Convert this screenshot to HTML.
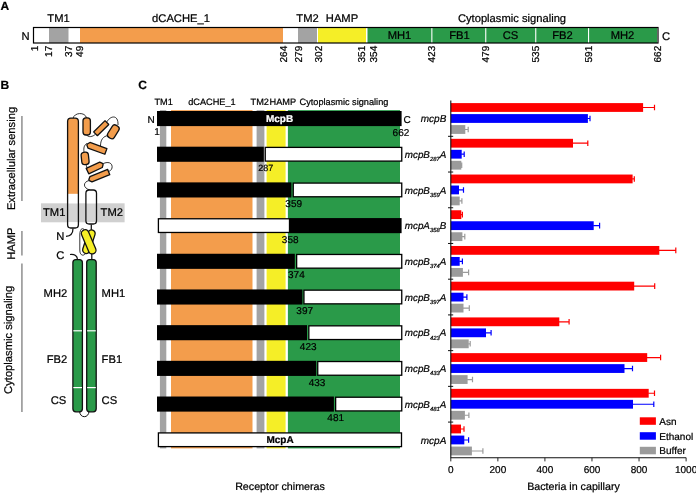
<!DOCTYPE html><html><head><meta charset="utf-8"><title>Figure</title>
<style>html,body{margin:0;padding:0;background:#fff}svg{display:block}text{font-family:"Liberation Sans",sans-serif;fill:#000;stroke:#000;stroke-width:0.22px;text-rendering:geometricPrecision}</style></head><body>
<svg width="696" height="493" viewBox="0 0 696 493">
<rect width="696" height="493" fill="#fff"/>
<g id="panelA">
<text x="0.6" y="9.7" font-size="12" font-weight="bold">A</text>
<rect x="33.5" y="27.5" width="624.5" height="15.5" fill="#fff"/>
<rect x="49" y="27.5" width="19.5" height="15.5" fill="#A3A3A3"/>
<rect x="80" y="27.5" width="203" height="15.5" fill="#F39D4C"/>
<rect x="298" y="27.5" width="19" height="15.5" fill="#A3A3A3"/>
<rect x="318" y="27.5" width="48" height="15.5" fill="#F5EE27"/>
<rect x="367.5" y="27.5" width="289.5" height="15.5" fill="#2A9A49"/>
<rect x="431.3" y="27.5" width="1.1" height="15.5" fill="#fff"/>
<rect x="485.2" y="27.5" width="1.1" height="15.5" fill="#fff"/>
<rect x="535.2" y="27.5" width="1.1" height="15.5" fill="#fff"/>
<rect x="588.0" y="27.5" width="1.1" height="15.5" fill="#fff"/>
<rect x="33.5" y="27.5" width="624.5" height="15.5" fill="none" stroke="#000" stroke-width="1.2"/>
<text x="21.5" y="39.6" font-size="11.2">N</text>
<text x="662" y="39.8" font-size="11.2">C</text>
<text x="58.5" y="21.9" font-size="11.2" text-anchor="middle">TM1</text>
<text x="181" y="21.9" font-size="11.2" text-anchor="middle">dCACHE_1</text>
<text x="307.5" y="21.9" font-size="11.2" text-anchor="middle">TM2</text>
<text x="342" y="21.9" font-size="11.2" text-anchor="middle">HAMP</text>
<text x="512" y="21.9" font-size="11.2" text-anchor="middle">Cytoplasmic signaling</text>
<text x="399.5" y="39.2" font-size="11.2" text-anchor="middle">MH1</text>
<text x="459.5" y="39.2" font-size="11.2" text-anchor="middle">FB1</text>
<text x="510.5" y="39.2" font-size="11.2" text-anchor="middle">CS</text>
<text x="562.5" y="39.2" font-size="11.2" text-anchor="middle">FB2</text>
<text x="622.5" y="39.2" font-size="11.2" text-anchor="middle">MH2</text>
<text transform="translate(37.8,45.8) rotate(-90)" font-size="10" text-anchor="end">1</text>
<text transform="translate(52,45.8) rotate(-90)" font-size="10" text-anchor="end">17</text>
<text transform="translate(72.2,45.8) rotate(-90)" font-size="10" text-anchor="end">37</text>
<text transform="translate(83.3,45.8) rotate(-90)" font-size="10" text-anchor="end">49</text>
<text transform="translate(286.5,45.8) rotate(-90)" font-size="10" text-anchor="end">264</text>
<text transform="translate(301.5,45.8) rotate(-90)" font-size="10" text-anchor="end">279</text>
<text transform="translate(322,45.8) rotate(-90)" font-size="10" text-anchor="end">302</text>
<text transform="translate(365,45.8) rotate(-90)" font-size="10" text-anchor="end">351</text>
<text transform="translate(377,45.8) rotate(-90)" font-size="10" text-anchor="end">354</text>
<text transform="translate(435.2,45.8) rotate(-90)" font-size="10" text-anchor="end">423</text>
<text transform="translate(488.5,45.8) rotate(-90)" font-size="10" text-anchor="end">479</text>
<text transform="translate(538.5,45.8) rotate(-90)" font-size="10" text-anchor="end">535</text>
<text transform="translate(591.5,45.8) rotate(-90)" font-size="10" text-anchor="end">591</text>
<text transform="translate(661.2,45.8) rotate(-90)" font-size="10" text-anchor="end">662</text>
</g>
<g id="panelB">
<text x="0.6" y="89" font-size="12" font-weight="bold">B</text>
<text transform="translate(14.6,158.5) rotate(-90)" font-size="11.2" text-anchor="middle">Extracellular sensing</text>
<text transform="translate(14.6,243.7) rotate(-90)" font-size="11.2" text-anchor="middle">HAMP</text>
<text transform="translate(12.3,339.8) rotate(-90)" font-size="11.2" text-anchor="middle">Cytoplasmic signaling</text>
<rect x="21.5" y="116" width="0.9" height="85" fill="#444"/>
<rect x="21.5" y="231" width="0.9" height="24.5" fill="#444"/>
<rect x="21.5" y="263.5" width="0.9" height="148.5" fill="#444"/>
<rect x="41" y="203.3" width="83.6" height="19" fill="#D0D0D0"/>
<text x="43" y="216.2" font-size="11.2">TM1</text>
<text x="100.6" y="216.2" font-size="11.2">TM2</text>
<path d="M73,118.5 C74,112.5 85,111.5 86.6,118" fill="none" stroke="#111" stroke-width="0.85"/>
<path d="M86.7,135 C88,137.5 93,137 95.5,134" fill="none" stroke="#111" stroke-width="0.85"/>
<path d="M106.5,122.5 C110,115.5 118.5,114 118,125" fill="none" stroke="#111" stroke-width="0.85"/>
<path d="M108.5,135.5 C103,136 100.5,140 100.5,146" fill="none" stroke="#111" stroke-width="0.85"/>
<path d="M87,143.5 C84,145 83.5,148 84,152" fill="none" stroke="#111" stroke-width="0.85"/>
<path d="M86,164 C86.5,166.5 87,167.5 88,170" fill="none" stroke="#111" stroke-width="0.85"/>
<path d="M101.5,164.5 C108,160.5 113,163 112,168 C111.5,170 110,171 108.5,171.5" fill="none" stroke="#111" stroke-width="0.85"/>
<path d="M89,180.5 C83,182 82.5,188 90,190" fill="none" stroke="#111" stroke-width="0.85"/>
<clipPath id="tc"><rect x="67.6" y="118.2" width="10.8" height="109.8" rx="3.2"/></clipPath>
<g clip-path="url(#tc)"><rect x="67" y="117" width="12" height="76.9" fill="#F39D4C"/><rect x="67" y="193.9" width="12" height="9.4" fill="#fff"/><rect x="67" y="203.3" width="12" height="19" fill="#fff" fill-opacity="0.1"/><rect x="67" y="222.3" width="12" height="8" fill="#fff"/></g>
<rect x="67.6" y="118.2" width="10.8" height="109.8" rx="3.2" fill="none" stroke="#111" stroke-width="1.3"/>
<rect x="-8.6" y="-3.7" width="17.2" height="7.4" rx="3" transform="translate(86.7,126.4) rotate(90)" fill="#F39D4C" stroke="#111" stroke-width="1.3"/>
<rect x="-8.0" y="-2.7" width="16" height="5.4" rx="0.3" transform="translate(101.2,128.2) rotate(-44.5)" fill="#F39D4C" stroke="#111" stroke-width="1.3"/>
<rect x="-7.1" y="-3.8" width="14.2" height="7.6" rx="3" transform="translate(113.3,131.8) rotate(-58)" fill="#F39D4C" stroke="#111" stroke-width="1.3"/>
<path d="M-10,-0.6 L-8,-3 L10,-3 L10,3 L-8,3 L-10,0.6 Z" transform="translate(96.5,148) rotate(20)" fill="#F39D4C" stroke="#111" stroke-width="1.3" stroke-linejoin="round"/>
<rect x="-6.2" y="-3.65" width="12.4" height="7.3" rx="3" transform="translate(85.1,158.4) rotate(84)" fill="#F39D4C" stroke="#111" stroke-width="1.3"/>
<path d="M-8.3,-3 L6.6,-3 L8.6,-0.7 L8.6,0.7 L6.6,3 L-8.3,3 Z" transform="translate(95,167.6) rotate(-25)" fill="#F39D4C" stroke="#111" stroke-width="1.3" stroke-linejoin="round"/>
<path d="M-10.7,-0.6 L-8.7,-2.8 L10.5,-2.8 L10.5,2.8 L-8.7,2.8 L-10.7,0.6 Z" transform="translate(99,176) rotate(-22)" fill="#F39D4C" stroke="#111" stroke-width="1.3" stroke-linejoin="round"/>
<clipPath id="t2"><rect x="85.9" y="190" width="10.6" height="34" rx="3.2"/></clipPath>
<g clip-path="url(#t2)"><rect x="85" y="189" width="13" height="14.3" fill="#fff"/><rect x="85" y="203.3" width="13" height="19" fill="#fff" fill-opacity="0.1"/><rect x="85" y="222.3" width="13" height="4" fill="#fff"/></g>
<rect x="85.9" y="190" width="10.6" height="34" rx="3.2" fill="none" stroke="#111" stroke-width="1.3"/>
<text x="56.3" y="240" font-size="11.2">N</text>
<text x="56.3" y="259.2" font-size="11.2">C</text>
<path d="M73,228.4 C73,234 70,236 66,236.3" fill="none" stroke="#111" stroke-width="1.25"/>
<path d="M70,254.5 C75,254 77.3,256 77.5,259.5" fill="none" stroke="#111" stroke-width="1.25"/>
<path d="M91.3,224.5 L91.3,230.5" fill="none" stroke="#111" stroke-width="1.25"/>
<path d="M91.8,252.5 L91.8,259.5" fill="none" stroke="#111" stroke-width="1.25"/>
<path d="M85,230.5 C82,226.5 79.8,229.5 79.8,235 L79.8,250 C79.8,256.5 84.5,256.3 86,252.5" fill="none" stroke="#111" stroke-width="0.85"/>
<rect x="-12.2" y="-3.6" width="24.4" height="7.2" rx="3.6" transform="translate(88.9,241.7) rotate(-72)" fill="#F5EE27" stroke="#111" stroke-width="1.3"/>
<rect x="-12.8" y="-3.75" width="25.6" height="7.5" rx="3.7" transform="translate(88.7,241.8) rotate(67)" fill="#F5EE27" stroke="#111" stroke-width="1.3"/>
<path d="M79.6,411 C79.6,418.6 89,418.6 89,411" fill="none" stroke="#111" stroke-width="1"/>
<rect x="72.9" y="259.6" width="9.5" height="152.2" rx="3" fill="#2A9A49" stroke="#111" stroke-width="1.3"/>
<rect x="86.7" y="259.6" width="9.5" height="152.2" rx="3" fill="#2A9A49" stroke="#111" stroke-width="1.3"/>
<rect x="73.3" y="330.2" width="8.7" height="1.2" fill="#fff"/><rect x="87.1" y="330.2" width="8.7" height="1.2" fill="#fff"/>
<rect x="73.3" y="387.0" width="8.7" height="1.2" fill="#fff"/><rect x="87.1" y="387.0" width="8.7" height="1.2" fill="#fff"/>
<text x="67.2" y="296.7" font-size="11.2" text-anchor="end">MH2</text>
<text x="101.6" y="296.7" font-size="11.2">MH1</text>
<text x="67.2" y="363" font-size="11.2" text-anchor="end">FB2</text>
<text x="101.6" y="363" font-size="11.2">FB1</text>
<text x="66.2" y="403.5" font-size="11.2" text-anchor="end">CS</text>
<text x="101.6" y="403.5" font-size="11.2">CS</text>
</g>
<g id="panelC">
<text x="138.2" y="89" font-size="12" font-weight="bold">C</text>
<text x="154.5" y="104.6" font-size="9.2" text-anchor="start">TM1</text>
<text x="188.2" y="104.6" font-size="9.2" text-anchor="start">dCACHE_1</text>
<text x="250.6" y="104.6" font-size="9.2" text-anchor="start">TM2</text>
<text x="269.5" y="104.6" font-size="9.2" text-anchor="start">HAMP</text>
<text x="299.5" y="104.6" font-size="9.2" text-anchor="start">Cytoplasmic signaling</text>
<rect x="159.9" y="110.1" width="6.400000000000006" height="338.29999999999995" fill="#A3A3A3"/>
<rect x="171" y="110.1" width="81.5" height="338.29999999999995" fill="#F39D4C"/>
<rect x="256.6" y="110.1" width="7.7999999999999545" height="338.29999999999995" fill="#A3A3A3"/>
<rect x="266.6" y="110.1" width="19.0" height="338.29999999999995" fill="#F5EE27"/>
<rect x="287.9" y="110.1" width="112.10000000000002" height="338.29999999999995" fill="#2A9A49"/>
<rect x="157" y="111.0" width="244.60000000000002" height="15.1" fill="#000"/>
<text x="279.5" y="122.3" font-size="10" font-weight="bold" text-anchor="middle" style="fill:#fff;stroke:#fff">McpB</text>
<text x="147.6" y="122.6" font-size="10">N</text>
<text x="403.4" y="122.7" font-size="10">C</text>
<text x="154.2" y="134.8" font-size="10">1</text>
<text x="392.6" y="135.6" font-size="10">662</text>
<rect x="157" y="146.69" width="106.80000000000001" height="15.1" fill="#000"/>
<rect x="265.25" y="147.39" width="136.5" height="13.7" fill="#fff" stroke="#000" stroke-width="1.3"/>
<text x="265.8" y="171.39" font-size="9" text-anchor="middle">287</text>
<rect x="157" y="182.38" width="134.39999999999998" height="15.1" fill="#000"/>
<rect x="293.25" y="183.07999999999998" width="108.5" height="13.7" fill="#fff" stroke="#000" stroke-width="1.3"/>
<text x="293.7" y="207.07999999999998" font-size="10" text-anchor="middle">359</text>
<rect x="289.5" y="218.07" width="112.10000000000002" height="15.1" fill="#000"/>
<rect x="158.4" y="218.76999999999998" width="131.1" height="13.7" fill="#fff" stroke="#000" stroke-width="1.3"/>
<text x="290.2" y="242.76999999999998" font-size="10" text-anchor="middle">358</text>
<rect x="157" y="253.76" width="137.8" height="15.1" fill="#000"/>
<rect x="296.65" y="254.45999999999998" width="105.10000000000002" height="13.7" fill="#fff" stroke="#000" stroke-width="1.3"/>
<text x="296.4" y="278.46" font-size="10" text-anchor="middle">374</text>
<rect x="157" y="289.45" width="145.39999999999998" height="15.1" fill="#000"/>
<rect x="303.95" y="290.15" width="97.80000000000001" height="13.7" fill="#fff" stroke="#000" stroke-width="1.3"/>
<text x="304.7" y="314.15" font-size="10" text-anchor="middle">397</text>
<rect x="157" y="325.14" width="150" height="15.1" fill="#000"/>
<rect x="308.84999999999997" y="325.84" width="92.90000000000003" height="13.7" fill="#fff" stroke="#000" stroke-width="1.3"/>
<text x="308.2" y="349.84" font-size="10" text-anchor="middle">423</text>
<rect x="157" y="360.83" width="159.2" height="15.1" fill="#000"/>
<rect x="317.75" y="361.53" width="84.0" height="13.7" fill="#fff" stroke="#000" stroke-width="1.3"/>
<text x="317.1" y="385.53" font-size="10" text-anchor="middle">433</text>
<rect x="157" y="396.52" width="176.89999999999998" height="15.1" fill="#000"/>
<rect x="335.65" y="397.21999999999997" width="66.10000000000002" height="13.7" fill="#fff" stroke="#000" stroke-width="1.3"/>
<text x="335.7" y="421.21999999999997" font-size="10" text-anchor="middle">481</text>
<rect x="158.4" y="432.90999999999997" width="243.10000000000002" height="13.7" fill="#fff" stroke="#000" stroke-width="1.3"/>
<text x="280" y="442.90999999999997" font-size="10" font-weight="bold" text-anchor="middle">McpA</text>
<text x="280" y="490.3" font-size="10.7" text-anchor="middle">Receptor chimeras</text>
</g>
<g id="chart">
<path d="M642.6,107.5 H655 M654.5,104.69999999999999 V110.3" stroke="#FF0000" stroke-width="1.2" fill="none"/>
<rect x="450.8" y="103.1" width="192.3" height="8.8" fill="#FF0000"/>
<path d="M587.4,118.5 H590.5 M590.0,115.69999999999999 V121.3" stroke="#0000FF" stroke-width="1.2" fill="none"/>
<rect x="450.8" y="114.1" width="137.09999999999997" height="8.8" fill="#0000FF"/>
<path d="M464.8,129.5 H468.7 M468.2,126.69999999999999 V132.29999999999998" stroke="#9B9B9B" stroke-width="1.2" fill="none"/>
<rect x="450.8" y="125.1" width="14.5" height="8.8" fill="#9B9B9B"/>
<text x="446.3" y="122.05999999999999" font-size="10" font-style="italic" text-anchor="end">mcpB</text>
<path d="M572.5,143.22 H588.3 M587.8,140.42 V146.01999999999998" stroke="#FF0000" stroke-width="1.2" fill="none"/>
<rect x="450.8" y="138.82" width="122.19999999999999" height="8.8" fill="#FF0000"/>
<path d="M461.2,154.22 H464.7 M464.2,151.42 V157.01999999999998" stroke="#0000FF" stroke-width="1.2" fill="none"/>
<rect x="450.8" y="149.82" width="10.899999999999977" height="8.8" fill="#0000FF"/>
<path d="M460.8,165.22 H462.2 M461.7,162.42 V168.01999999999998" stroke="#9B9B9B" stroke-width="1.2" fill="none"/>
<rect x="450.8" y="160.82" width="10.5" height="8.8" fill="#9B9B9B"/>
<text x="446.3" y="157.78" font-size="9.8" font-style="italic" text-anchor="end">mcpB<tspan font-size="5.9" dy="3.2">287</tspan><tspan dy="-3.2">A</tspan></text>
<path d="M632.1,178.94000000000003 H634.8 M634.3,176.14000000000001 V181.74" stroke="#FF0000" stroke-width="1.2" fill="none"/>
<rect x="450.8" y="174.54000000000002" width="181.8" height="8.8" fill="#FF0000"/>
<path d="M458.5,189.94000000000003 H464 M463.5,187.14000000000001 V192.74" stroke="#0000FF" stroke-width="1.2" fill="none"/>
<rect x="450.8" y="185.54000000000002" width="8.199999999999989" height="8.8" fill="#0000FF"/>
<path d="M459.2,200.94000000000003 H462.4 M461.9,198.14000000000001 V203.74" stroke="#9B9B9B" stroke-width="1.2" fill="none"/>
<rect x="450.8" y="196.54000000000002" width="8.899999999999977" height="8.8" fill="#9B9B9B"/>
<text x="446.3" y="193.50000000000003" font-size="9.8" font-style="italic" text-anchor="end">mcpB<tspan font-size="5.9" dy="3.2">359</tspan><tspan dy="-3.2">A</tspan></text>
<path d="M460.8,214.66000000000003 H462.9 M462.4,211.86 V217.46" stroke="#FF0000" stroke-width="1.2" fill="none"/>
<rect x="450.8" y="210.26000000000002" width="10.5" height="8.8" fill="#FF0000"/>
<path d="M593.2,225.66000000000003 H600.1 M599.6,222.86 V228.46" stroke="#0000FF" stroke-width="1.2" fill="none"/>
<rect x="450.8" y="221.26000000000002" width="142.90000000000003" height="8.8" fill="#0000FF"/>
<path d="M461.9,236.66000000000003 H465.3 M464.8,233.86 V239.46" stroke="#9B9B9B" stroke-width="1.2" fill="none"/>
<rect x="450.8" y="232.26000000000002" width="11.599999999999966" height="8.8" fill="#9B9B9B"/>
<text x="446.3" y="229.22000000000003" font-size="9.8" font-style="italic" text-anchor="end">mcpA<tspan font-size="5.9" dy="3.2">358</tspan><tspan dy="-3.2">B</tspan></text>
<path d="M658.8,250.38000000000002 H676.3 M675.8,247.58 V253.18" stroke="#FF0000" stroke-width="1.2" fill="none"/>
<rect x="450.8" y="245.98000000000002" width="208.49999999999994" height="8.8" fill="#FF0000"/>
<path d="M459.2,261.38 H462.9 M462.4,258.58000000000004 V264.18" stroke="#0000FF" stroke-width="1.2" fill="none"/>
<rect x="450.8" y="256.98" width="8.899999999999977" height="8.8" fill="#0000FF"/>
<path d="M462.4,272.38 H469.1 M468.6,269.58000000000004 V275.18" stroke="#9B9B9B" stroke-width="1.2" fill="none"/>
<rect x="450.8" y="267.98" width="12.099999999999966" height="8.8" fill="#9B9B9B"/>
<text x="446.3" y="264.94000000000005" font-size="9.8" font-style="italic" text-anchor="end">mcpB<tspan font-size="5.9" dy="3.2">374</tspan><tspan dy="-3.2">A</tspan></text>
<path d="M633.7,286.1 H655.2 M654.7,283.30000000000007 V288.90000000000003" stroke="#FF0000" stroke-width="1.2" fill="none"/>
<rect x="450.8" y="281.70000000000005" width="183.40000000000003" height="8.8" fill="#FF0000"/>
<path d="M463.0,297.1 H467.4 M466.9,294.30000000000007 V299.90000000000003" stroke="#0000FF" stroke-width="1.2" fill="none"/>
<rect x="450.8" y="292.70000000000005" width="12.699999999999989" height="8.8" fill="#0000FF"/>
<path d="M463.0,308.1 H469.8 M469.3,305.30000000000007 V310.90000000000003" stroke="#9B9B9B" stroke-width="1.2" fill="none"/>
<rect x="450.8" y="303.70000000000005" width="12.699999999999989" height="8.8" fill="#9B9B9B"/>
<text x="446.3" y="300.6600000000001" font-size="9.8" font-style="italic" text-anchor="end">mcpB<tspan font-size="5.9" dy="3.2">397</tspan><tspan dy="-3.2">A</tspan></text>
<path d="M558.8,321.82000000000005 H569.6 M569.1,319.0200000000001 V324.62000000000006" stroke="#FF0000" stroke-width="1.2" fill="none"/>
<rect x="450.8" y="317.4200000000001" width="108.49999999999994" height="8.8" fill="#FF0000"/>
<path d="M485.5,332.82000000000005 H491.6 M491.1,330.0200000000001 V335.62000000000006" stroke="#0000FF" stroke-width="1.2" fill="none"/>
<rect x="450.8" y="328.4200000000001" width="35.19999999999999" height="8.8" fill="#0000FF"/>
<path d="M468.2,343.82000000000005 H470.7 M470.2,341.0200000000001 V346.62000000000006" stroke="#9B9B9B" stroke-width="1.2" fill="none"/>
<rect x="450.8" y="339.4200000000001" width="17.899999999999977" height="8.8" fill="#9B9B9B"/>
<text x="446.3" y="336.3800000000001" font-size="9.8" font-style="italic" text-anchor="end">mcpB<tspan font-size="5.9" dy="3.2">423</tspan><tspan dy="-3.2">A</tspan></text>
<path d="M646.7,357.54 H661.1 M660.6,354.74000000000007 V360.34000000000003" stroke="#FF0000" stroke-width="1.2" fill="none"/>
<rect x="450.8" y="353.14000000000004" width="196.40000000000003" height="8.8" fill="#FF0000"/>
<path d="M624.0,368.54 H633 M632.5,365.74000000000007 V371.34000000000003" stroke="#0000FF" stroke-width="1.2" fill="none"/>
<rect x="450.8" y="364.14000000000004" width="173.7" height="8.8" fill="#0000FF"/>
<path d="M467.1,379.54 H473 M472.5,376.74000000000007 V382.34000000000003" stroke="#9B9B9B" stroke-width="1.2" fill="none"/>
<rect x="450.8" y="375.14000000000004" width="16.80000000000001" height="8.8" fill="#9B9B9B"/>
<text x="446.3" y="372.1000000000001" font-size="9.8" font-style="italic" text-anchor="end">mcpB<tspan font-size="5.9" dy="3.2">433</tspan><tspan dy="-3.2">A</tspan></text>
<path d="M648.2,393.26 H655 M654.5,390.46000000000004 V396.06" stroke="#FF0000" stroke-width="1.2" fill="none"/>
<rect x="450.8" y="388.86" width="197.90000000000003" height="8.8" fill="#FF0000"/>
<path d="M632.5,404.26 H654.3 M653.8,401.46000000000004 V407.06" stroke="#0000FF" stroke-width="1.2" fill="none"/>
<rect x="450.8" y="399.86" width="182.2" height="8.8" fill="#0000FF"/>
<path d="M464.4,415.26 H469.4 M468.9,412.46000000000004 V418.06" stroke="#9B9B9B" stroke-width="1.2" fill="none"/>
<rect x="450.8" y="410.86" width="14.099999999999966" height="8.8" fill="#9B9B9B"/>
<text x="446.3" y="407.82000000000005" font-size="9.8" font-style="italic" text-anchor="end">mcpB<tspan font-size="5.9" dy="3.2">481</tspan><tspan dy="-3.2">A</tspan></text>
<path d="M460.5,428.98 H464.5 M464.0,426.18000000000006 V431.78000000000003" stroke="#FF0000" stroke-width="1.2" fill="none"/>
<rect x="450.8" y="424.58000000000004" width="10.199999999999989" height="8.8" fill="#FF0000"/>
<path d="M463.8,439.98 H469.1 M468.6,437.18000000000006 V442.78000000000003" stroke="#0000FF" stroke-width="1.2" fill="none"/>
<rect x="450.8" y="435.58000000000004" width="13.5" height="8.8" fill="#0000FF"/>
<path d="M471.4,450.98 H483.4 M482.9,448.18000000000006 V453.78000000000003" stroke="#9B9B9B" stroke-width="1.2" fill="none"/>
<rect x="450.8" y="446.58000000000004" width="21.099999999999966" height="8.8" fill="#9B9B9B"/>
<text x="446.3" y="443.5400000000001" font-size="10" font-style="italic" text-anchor="end">mcpA</text>
<path d="M450.8,100.6 V457.8 H686.2" stroke="#111" stroke-width="1.1" fill="none"/>
<path d="M448.0,136.32 H453.2" stroke="#111" stroke-width="1"/>
<path d="M448.0,172.04000000000002 H453.2" stroke="#111" stroke-width="1"/>
<path d="M448.0,207.76000000000002 H453.2" stroke="#111" stroke-width="1"/>
<path d="M448.0,243.48000000000002 H453.2" stroke="#111" stroke-width="1"/>
<path d="M448.0,279.20000000000005 H453.2" stroke="#111" stroke-width="1"/>
<path d="M448.0,314.9200000000001 H453.2" stroke="#111" stroke-width="1"/>
<path d="M448.0,350.64000000000004 H453.2" stroke="#111" stroke-width="1"/>
<path d="M448.0,386.36 H453.2" stroke="#111" stroke-width="1"/>
<path d="M448.0,422.08000000000004 H453.2" stroke="#111" stroke-width="1"/>
<path d="M450.8,457.8 V461.40000000000003" stroke="#111" stroke-width="0.9"/>
<text x="450.8" y="472.8" font-size="10" text-anchor="middle">0</text>
<path d="M497.86,457.8 V461.40000000000003" stroke="#111" stroke-width="0.9"/>
<text x="497.86" y="472.8" font-size="10" text-anchor="middle">200</text>
<path d="M544.9200000000001,457.8 V461.40000000000003" stroke="#111" stroke-width="0.9"/>
<text x="544.9200000000001" y="472.8" font-size="10" text-anchor="middle">400</text>
<path d="M591.98,457.8 V461.40000000000003" stroke="#111" stroke-width="0.9"/>
<text x="591.98" y="472.8" font-size="10" text-anchor="middle">600</text>
<path d="M639.04,457.8 V461.40000000000003" stroke="#111" stroke-width="0.9"/>
<text x="639.04" y="472.8" font-size="10" text-anchor="middle">800</text>
<path d="M686.1,457.8 V461.40000000000003" stroke="#111" stroke-width="0.9"/>
<text x="686.1" y="472.8" font-size="10" text-anchor="middle">1000</text>
<text x="573.5" y="490.3" font-size="10.7" text-anchor="middle">Bacteria in capillary</text>
<rect x="639.8" y="417.3" width="16.1" height="7.5" fill="#FF0000"/>
<text x="659.3" y="424.90000000000003" font-size="10">Asn</text>
<rect x="639.8" y="432.2" width="16.1" height="7.5" fill="#0000FF"/>
<text x="659.3" y="439.8" font-size="10">Ethanol</text>
<rect x="639.8" y="446.8" width="16.1" height="7.5" fill="#9B9B9B"/>
<text x="659.3" y="454.40000000000003" font-size="10">Buffer</text>
</g>
</svg></body></html>
